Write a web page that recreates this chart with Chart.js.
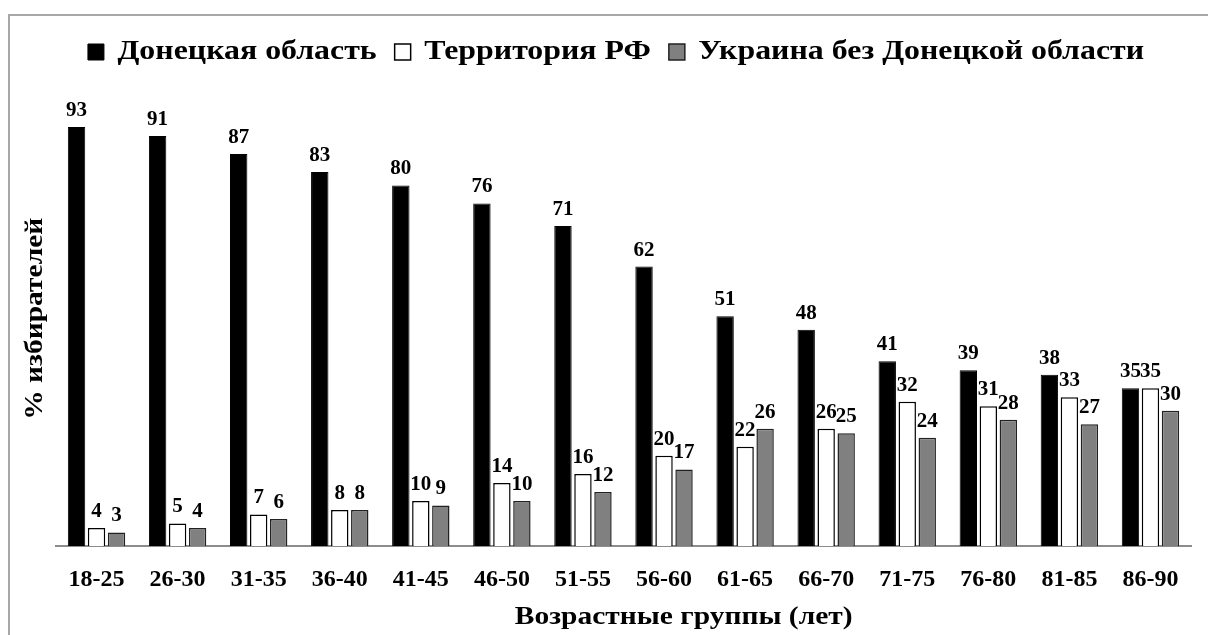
<!DOCTYPE html>
<html><head><meta charset="utf-8">
<script src="https://cdn.jsdelivr.net/npm/chart.js@4.4.1/dist/chart.umd.min.js"></script>
<style>
html,body{margin:0;padding:0;background:#fff;overflow:hidden}
#wrap{position:relative;width:1208px;height:635px}
#frame{position:absolute;left:8px;top:14px;width:1300px;height:700px;border:2px solid #a8a8a8;box-sizing:border-box}
canvas{position:absolute;left:0;top:0}
</style></head><body>
<div id="wrap"><div id="frame"></div><canvas id="c" width="1208" height="635"></canvas></div>
<script>
const categories = ['18-25','26-30','31-35','36-40','41-45','46-50','51-55','56-60','61-65','66-70','71-75','76-80','81-85','86-90'];
const donetsk = [93,91,87,83,80,76,71,62,51,48,41,39,38,35];
const russia  = [4,5,7,8,10,14,16,20,22,26,32,31,33,35];
const ukraine = [3,4,6,8,9,10,12,17,26,25,24,28,27,30];
const seriesNames = ['Донецкая область','Территория РФ','Украина без Донецкой области'];
const yAxisTitle = '% избирателей';
const xAxisTitle = 'Возрастные группы (лет)';

const SERIF = '"Liberation Serif","Times New Roman",serif';

// the reference typeface renders Cyrillic wider than Liberation Serif: stretch those strings horizontally
const canvas = document.getElementById('c');
const ctx2d = canvas.getContext('2d');
const STRETCH = 1.18;
const isCyr = s => /[\u0400-\u04FF]/.test(String(s));
const origFill = CanvasRenderingContext2D.prototype.fillText;
const origMeasure = CanvasRenderingContext2D.prototype.measureText;
ctx2d.fillText = function (t, x, y, mw) {
  if (!isCyr(t)) return mw === undefined ? origFill.call(this, t, x, y) : origFill.call(this, t, x, y, mw);
  this.save();
  this.translate(x, y);
  this.scale(STRETCH, 1);
  origFill.call(this, t, 0, 0);
  this.restore();
};
ctx2d.measureText = function (t) {
  const m = origMeasure.call(this, t);
  if (!isCyr(t)) return m;
  return {
    width: m.width * STRETCH,
    actualBoundingBoxLeft: m.actualBoundingBoxLeft * STRETCH,
    actualBoundingBoxRight: m.actualBoundingBoxRight * STRETCH,
    actualBoundingBoxAscent: m.actualBoundingBoxAscent,
    actualBoundingBoxDescent: m.actualBoundingBoxDescent,
    fontBoundingBoxAscent: m.fontBoundingBoxAscent,
    fontBoundingBoxDescent: m.fontBoundingBoxDescent
  };
};

const valueLabels = {
  id: 'valueLabels',
  afterDatasetsDraw(chart) {
    const ctx = chart.ctx;
    ctx.save();
    ctx.font = 'bold 21px ' + SERIF;
    ctx.fillStyle = '#000';
    ctx.textAlign = 'center';
    ctx.textBaseline = 'bottom';
    chart.data.datasets.forEach((ds, i) => {
      const meta = chart.getDatasetMeta(i);
      meta.data.forEach((bar, j) => {
        ctx.fillText(String(ds.data[j]), bar.x, bar.y - 6);
      });
    });
    ctx.restore();
  }
};

// axis titles placed as in the reference (x title sits right of centre)
const axisTitles = {
  id: 'axisTitles',
  afterDraw(chart) {
    const ctx = chart.ctx;
    const a = chart.chartArea;
    ctx.save();
    ctx.fillStyle = '#000';
    ctx.textAlign = 'center';
    ctx.textBaseline = 'middle';
    ctx.font = 'bold 25px ' + SERIF;
    ctx.fillText(xAxisTitle, a.left + (a.right - a.left) * 0.553, chart.scales.x.bottom - 17);
    ctx.translate(36, a.top + (a.bottom - a.top) * 0.517);
    ctx.rotate(-Math.PI / 2);
    ctx.fillText(yAxisTitle, 0, 0);
    ctx.restore();
  }
};

new Chart(canvas, {
  type: 'bar',
  data: {
    labels: categories,
    datasets: [
      { label: seriesNames[0], data: donetsk, backgroundColor: '#000', borderColor: '#000', borderWidth: 1 },
      { label: seriesNames[1], data: russia, backgroundColor: '#fff', borderColor: '#000', borderWidth: 1.5 },
      { label: seriesNames[2], data: ukraine, backgroundColor: '#808080', borderColor: '#222', borderWidth: 1.5 }
    ]
  },
  options: {
    responsive: false,
    devicePixelRatio: 1,
    animation: false,
    barPercentage: 0.87,
    categoryPercentage: 0.74,
    layout: { padding: { top: 20.5, right: 17, left: 41, bottom: 0 } },
    plugins: {
      legend: {
        position: 'top',
        labels: {
          color: '#000',
          font: { family: SERIF, size: 27, weight: 'bold' },
          boxWidth: 16, boxHeight: 16, padding: 18
        }
      },
      tooltip: { enabled: false },
      title: { display: false }
    },
    scales: {
      x: {
        grid: { display: false, drawTicks: false },
        border: { display: true, color: '#8c8c8c', width: 2 },
        ticks: { color: '#000', font: { family: SERIF, size: 24, weight: 'bold' }, padding: 19, maxRotation: 0, autoSkip: false },
        title: { display: false, text: xAxisTitle },
        afterFit(scale) { scale.height = 89; }
      },
      y: {
        min: 0, max: 104.4,
        grid: { display: false, drawTicks: false },
        border: { display: false },
        ticks: { display: false },
        title: { display: false, text: yAxisTitle },
        afterFit(scale) { scale.width = 15; }
      }
    }
  },
  plugins: [valueLabels, axisTitles]
});
</script>
</body></html>
